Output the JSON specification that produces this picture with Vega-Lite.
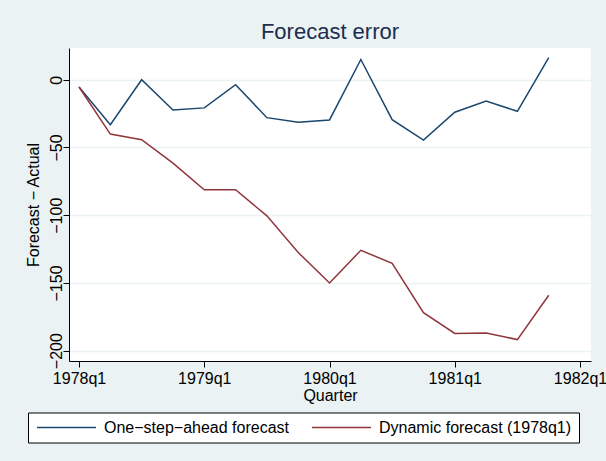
{
  "$schema": "https://vega.github.io/schema/vega-lite/v6.json",
  "width": 522,
  "height": 313,
  "autosize": {"type": "none"},
  "padding": {"left": 69, "top": 48, "right": 15, "bottom": 100},
  "background": "#eaf2f3",
  "view": {"fill": "white", "stroke": null},
  "config": {
    "font": "Liberation Sans",
    "title": {"fontSize": 22, "fontWeight": "normal", "color": "#1c2d4f", "baseline": "alphabetic", "offset": 4, "anchor": "middle"}
  },
  "title": "Forecast error",
  "data": {
    "values": [
      {"q": 0, "value": -5.4, "series": "One−step−ahead forecast"},
      {"q": 1, "value": -33.2, "series": "One−step−ahead forecast"},
      {"q": 2, "value": 0, "series": "One−step−ahead forecast"},
      {"q": 3, "value": -22.3, "series": "One−step−ahead forecast"},
      {"q": 4, "value": -20.8, "series": "One−step−ahead forecast"},
      {"q": 5, "value": -3.7, "series": "One−step−ahead forecast"},
      {"q": 6, "value": -28, "series": "One−step−ahead forecast"},
      {"q": 7, "value": -31.4, "series": "One−step−ahead forecast"},
      {"q": 8, "value": -29.7, "series": "One−step−ahead forecast"},
      {"q": 9, "value": 14.9, "series": "One−step−ahead forecast"},
      {"q": 10, "value": -29.5, "series": "One−step−ahead forecast"},
      {"q": 11, "value": -44.6, "series": "One−step−ahead forecast"},
      {"q": 12, "value": -24, "series": "One−step−ahead forecast"},
      {"q": 13, "value": -15.8, "series": "One−step−ahead forecast"},
      {"q": 14, "value": -23.3, "series": "One−step−ahead forecast"},
      {"q": 15, "value": 16.3, "series": "One−step−ahead forecast"},
      {"q": 0, "value": -5.4, "series": "Dynamic forecast (1978q1)"},
      {"q": 1, "value": -40.1, "series": "Dynamic forecast (1978q1)"},
      {"q": 2, "value": -44.3, "series": "Dynamic forecast (1978q1)"},
      {"q": 3, "value": -61.6, "series": "Dynamic forecast (1978q1)"},
      {"q": 4, "value": -81.2, "series": "Dynamic forecast (1978q1)"},
      {"q": 5, "value": -81.2, "series": "Dynamic forecast (1978q1)"},
      {"q": 6, "value": -100.5, "series": "Dynamic forecast (1978q1)"},
      {"q": 7, "value": -127.5, "series": "Dynamic forecast (1978q1)"},
      {"q": 8, "value": -150, "series": "Dynamic forecast (1978q1)"},
      {"q": 9, "value": -125.9, "series": "Dynamic forecast (1978q1)"},
      {"q": 10, "value": -135.5, "series": "Dynamic forecast (1978q1)"},
      {"q": 11, "value": -171.9, "series": "Dynamic forecast (1978q1)"},
      {"q": 12, "value": -187.3, "series": "Dynamic forecast (1978q1)"},
      {"q": 13, "value": -187, "series": "Dynamic forecast (1978q1)"},
      {"q": 14, "value": -191.8, "series": "Dynamic forecast (1978q1)"},
      {"q": 15, "value": -159.1, "series": "Dynamic forecast (1978q1)"}
    ]
  },
  "mark": {"type": "line", "strokeWidth": 1.5, "clip": true},
  "encoding": {
    "x": {
      "field": "q", "type": "quantitative",
      "scale": {"domain": [-0.32, 16.35], "nice": false, "zero": false},
      "axis": {
        "values": [0, 4, 8, 12, 16],
        "labelExpr": "(1978 + floor(datum.value / 4)) + 'q' + (datum.value % 4 + 1)",
        "title": "Quarter",
        "grid": false,
        "domainColor": "#000", "domainWidth": 1,
        "tickColor": "#000", "tickSize": 6, "tickWidth": 1,
        "labelFontSize": 16, "labelColor": "#000", "labelBaseline": "alphabetic", "labelPadding": 16,
        "labelFlush": false, "labelOverlap": false,
        "titleFontSize": 16, "titleFontWeight": "normal", "titleColor": "#000",
        "titleBaseline": "alphabetic", "titleX": 261, "titleY": 39, "titleAnchor": "middle", "titleAlign": "center"
      }
    },
    "y": {
      "field": "value", "type": "quantitative",
      "scale": {"domain": [-207.6, 23.4], "nice": false, "zero": false},
      "axis": {
        "values": [-200, -150, -100, -50, 0],
        "title": "Forecast − Actual",
        "grid": true, "gridColor": "#eaf2f3", "gridWidth": 1.5,
        "domainColor": "#000", "domainWidth": 1,
        "tickColor": "#000", "tickSize": 6, "tickWidth": 1,
        "labelFontSize": 16, "labelColor": "#000",
        "labelAngle": 270, "labelAlign": "center", "labelBaseline": "alphabetic", "labelPadding": 2,
        "labelFlush": false, "labelOverlap": false,
        "titleFontSize": 16, "titleFontWeight": "normal", "titleColor": "#000",
        "titleAngle": 270, "titleBaseline": "alphabetic", "titleAlign": "center",
        "titleX": -31, "titleY": 156.5
      }
    },
    "color": {
      "field": "series", "type": "nominal",
      "scale": {"domain": ["One−step−ahead forecast", "Dynamic forecast (1978q1)"], "range": ["#1a476f", "#90353b"]},
      "legend": {
        "title": null,
        "orient": "none", "legendX": -41, "legendY": 364.5,
        "direction": "horizontal",
        "fillColor": "white", "strokeColor": "#000",
        "padding": 7, "cornerRadius": 0,
        "symbolType": "M-1,0H8.83", "symbolSize": 144, "symbolStrokeWidth": 1.5,
        "labelFontSize": 16, "labelColor": "#000", "labelOffset": 53, "labelLimit": 400,
        "columnPadding": 19
      }
    }
  }
}
